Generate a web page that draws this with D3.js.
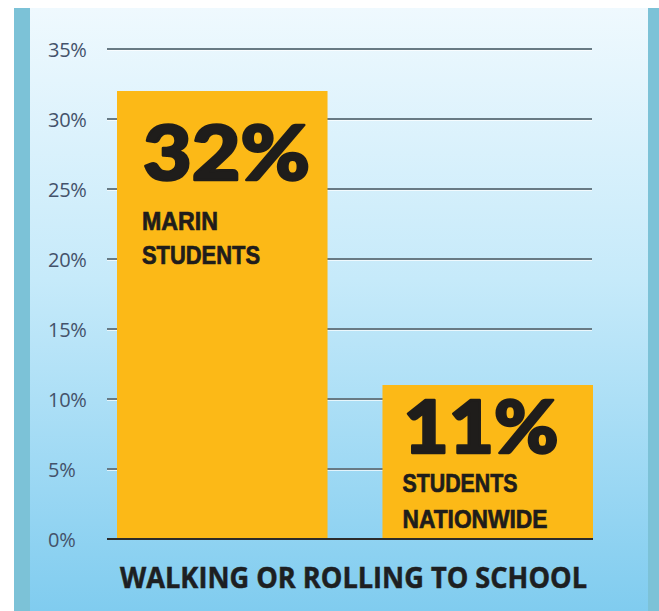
<!DOCTYPE html>
<html>
<head>
<meta charset="utf-8">
<script src="https://cdn.jsdelivr.net/npm/d3@7"></script>
<style>
  html, body { margin: 0; padding: 0; background: #ffffff; }
  svg { display: block; }
</style>
</head>
<body>
<div id="chart"></div>
<script>
// Share of students walking or rolling to school
const categories = ["MARIN STUDENTS", "STUDENTS NATIONWIDE"];
const values = [32, 11];
const valueLabels = ["32%", "11%"];
const labelLines = [["MARIN", "STUDENTS"], ["STUDENTS", "NATIONWIDE"]];
const tickValues = [0, 5, 10, 15, 20, 25, 30, 35];
const tickLabels = ["0%", "5%", "10%", "15%", "20%", "25%", "30%", "35%"];
const axisTitle = "WALKING OR ROLLING TO SCHOOL";

const W = 659, H = 611;
const svg = d3.select("#chart").append("svg").attr("width", W).attr("height", H);

const defs = svg.append("defs");
const grad = defs.append("linearGradient").attr("id", "bg").attr("x1", 0).attr("y1", 0).attr("x2", 0).attr("y2", 1);
grad.append("stop").attr("offset", "0%").attr("stop-color", "#eff9fe");
grad.append("stop").attr("offset", "45%").attr("stop-color", "#c6eafa");
grad.append("stop").attr("offset", "100%").attr("stop-color", "#80ccef");

// panel + side strips
svg.append("rect").attr("x", 30).attr("y", 8).attr("width", 618).attr("height", H - 8).attr("fill", "url(#bg)");
svg.append("rect").attr("x", 14).attr("y", 8).attr("width", 16).attr("height", H - 8).attr("fill", "#7cc2d7");
svg.append("rect").attr("x", 648).attr("y", 8).attr("width", 11).attr("height", H - 8).attr("fill", "#7cc2d7");

const x = d3.scaleBand().domain(categories).range([117, 593]).paddingInner(0.207).paddingOuter(0);
const y = d3.scaleLinear().domain([0, 35]).range([539, 49]);

// gridlines with a light emboss underneath
const grid = svg.append("g");
tickValues.filter(v => v > 0).forEach(v => {
  grid.append("line").attr("x1", 107).attr("x2", 592).attr("y1", y(v) + 1.5).attr("y2", y(v) + 1.5)
    .attr("stroke", "#ffffff").attr("stroke-opacity", 0.7).attr("stroke-width", 1);
  grid.append("line").attr("x1", 107).attr("x2", 592).attr("y1", y(v)).attr("y2", y(v))
    .attr("stroke", "#687a84").attr("stroke-width", 1.8);
});

// y axis labels
const yAxis = d3.axisLeft(y).tickValues(tickValues).tickFormat((d, i) => tickLabels[i]).tickSize(0).tickPadding(0);
const ag = svg.append("g").attr("transform", "translate(48,0)").call(yAxis);
ag.select(".domain").remove();
ag.selectAll("text")
  .attr("text-anchor", "start")
  .attr("x", 0)
  .attr("dy", "0.35em")
  .attr("fill", "#44526a")
  .style("font-family", "'Open Sans', sans-serif")
  .style("font-size", "20px")
  .style("letter-spacing", "-0.3px");

// bars
svg.append("g").selectAll("rect").data(categories).join("rect")
  .attr("x", d => x(d))
  .attr("width", x.bandwidth())
  .attr("y", (d, i) => y(values[i]))
  .attr("height", (d, i) => y(0) - y(values[i]))
  .attr("fill", "#fcb917");

// baseline
svg.append("line").attr("x1", 107).attr("x2", 593).attr("y1", y(0)).attr("y2", y(0))
  .attr("stroke", "#2b2b2b").attr("stroke-width", 2);

// in-bar labels
const textLayout = [
  { dx: 25, big: 89, bigW: 167, bigSize: 76, lines: [139, 173], lineW: [76, 118], lineSize: 25 },
  { dx: 20, big: 68, bigW: 155, bigSize: 73, lines: [107, 143], lineW: [115, 145], lineSize: 25 }
];
const ink = "#1f1d1b";
const lab = svg.append("g").selectAll("g").data(categories).join("g");
lab.append("text")
  .attr("x", (d, i) => x(d) + textLayout[i].dx + 1)
  .attr("y", (d, i) => y(values[i]) + textLayout[i].big)
  .attr("textLength", (d, i) => textLayout[i].bigW)
  .attr("lengthAdjust", "spacingAndGlyphs")
  .attr("fill", ink)
  .attr("stroke", ink)
  .attr("stroke-width", 2.6)
  .attr("stroke-linejoin", "round")
  .style("font-family", "Lato, 'Liberation Sans', sans-serif")
  .style("font-weight", 900)
  .style("font-size", (d, i) => textLayout[i].bigSize + "px")
  .text((d, i) => valueLabels[i]);
lab.each(function (d, i) {
  const g = d3.select(this);
  labelLines[i].forEach((line, j) => {
    g.append("text")
      .attr("x", x(d) + textLayout[i].dx)
      .attr("y", y(values[i]) + textLayout[i].lines[j])
      .attr("textLength", textLayout[i].lineW[j])
      .attr("lengthAdjust", "spacingAndGlyphs")
      .attr("fill", ink)
      .attr("stroke", ink)
      .attr("stroke-width", 0.7)
      .style("font-family", "'Liberation Sans', sans-serif")
      .style("font-weight", 700)
      .style("font-size", textLayout[i].lineSize + "px")
      .text(line);
  });
});

// axis title
svg.append("text")
  .attr("x", 120).attr("y", 588)
  .attr("textLength", 467)
  .attr("lengthAdjust", "spacingAndGlyphs")
  .attr("fill", "#1d1f22")
  .attr("stroke", "#1d1f22")
  .attr("stroke-width", 0.5)
  .style("font-family", "'Open Sans', sans-serif")
  .style("font-weight", 700)
  .style("font-size", "29px")
  .text(axisTitle);
</script>
</body>
</html>
